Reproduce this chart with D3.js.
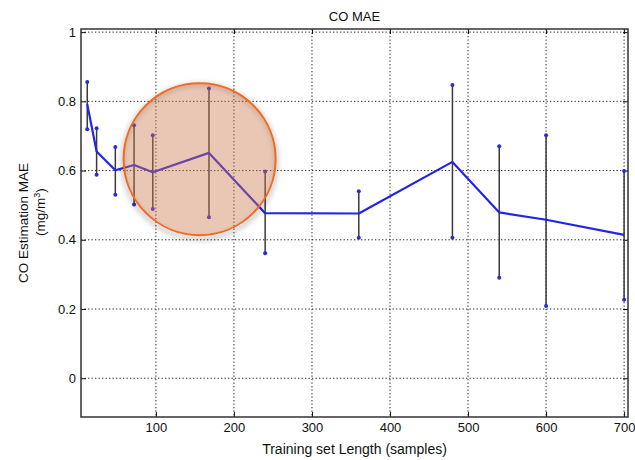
<!DOCTYPE html>
<html>
<head>
<meta charset="utf-8">
<script src="https://cdn.jsdelivr.net/npm/d3@7/dist/d3.min.js"></script>
<style>
  html, body { margin: 0; padding: 0; background: #fff; }
  svg { display: block; font-family: "Liberation Sans", Arial, Helvetica, sans-serif; }
</style>
</head>
<body>
<svg id="chart" width="635" height="460"></svg>
<script>
// Training set lengths (samples)
const trainLengths = [12, 24, 48, 72, 96, 168, 240, 360, 480, 540, 600, 700];
// Mean CO estimation MAE (mg/m^3)
const maeMean  = [0.792, 0.655, 0.601, 0.616, 0.595, 0.651, 0.477, 0.476, 0.625, 0.479, 0.458, 0.414];
// Error bar extents
const maeUpper = [0.856, 0.722, 0.668, 0.731, 0.702, 0.837, 0.597, 0.540, 0.847, 0.670, 0.702, 0.599];
const maeLower = [0.719, 0.588, 0.530, 0.502, 0.489, 0.465, 0.361, 0.406, 0.406, 0.290, 0.209, 0.227];

const xTicks = [100, 200, 300, 400, 500, 600, 700];
const yTicks = [0, 0.2, 0.4, 0.6, 0.8, 1];

// Highlighted region (data coordinates of centre)
const highlightCenter = { x: 156, y: 0.633 };

const svg = d3.select("#chart");
const plot = { left: 81, right: 628, top: 29, bottom: 417 };

const x = d3.scaleLinear().domain([4, 705]).range([plot.left, plot.right]);
const y = d3.scaleLinear().domain([-0.112, 1.009]).range([plot.bottom, plot.top]);

const defs = svg.append("defs");
defs.append("filter").attr("id", "ring-blur")
  .attr("x", "-20%").attr("y", "-20%").attr("width", "140%").attr("height", "140%")
  .append("feGaussianBlur").attr("stdDeviation", 2.5);

// Dotted grid
const grid = svg.append("g").attr("stroke", "#222").attr("stroke-width", 1)
  .attr("stroke-dasharray", "1.3,2.2");
grid.selectAll("line.gx").data(xTicks).join("line").attr("class", "gx")
  .attr("x1", d => x(d)).attr("x2", d => x(d))
  .attr("y1", plot.top).attr("y2", plot.bottom);
grid.selectAll("line.gy").data(yTicks).join("line").attr("class", "gy")
  .attr("x1", plot.left).attr("x2", plot.right)
  .attr("y1", d => y(d)).attr("y2", d => y(d));

// Axes (inward ticks on all four sides)
const axisBottom = d3.axisBottom(x).tickValues(xTicks).tickSize(-5).tickPadding(6).tickFormat(d3.format("d"));
const axisTop = d3.axisTop(x).tickValues(xTicks).tickSize(-5).tickFormat("");
const axisLeft = d3.axisLeft(y).tickValues(yTicks).tickSize(-5).tickPadding(5)
  .tickFormat(d => d === 0 || d === 1 ? String(d) : d3.format(".1f")(d));
const axisRight = d3.axisRight(y).tickValues(yTicks).tickSize(-5).tickFormat("");

function styleAxis(g) {
  g.select(".domain").remove();
  g.selectAll(".tick line").attr("stroke", "#111").attr("stroke-width", 1);
  g.selectAll(".tick text").attr("fill", "#111").attr("font-size", 13)
    .attr("font-family", "\"Liberation Sans\", Arial, sans-serif");
}
svg.append("g").attr("transform", `translate(0,${plot.bottom})`).call(axisBottom).call(styleAxis);
svg.append("g").attr("transform", `translate(0,${plot.top})`).call(axisTop).call(styleAxis);
svg.append("g").attr("transform", `translate(${plot.left},0)`).call(axisLeft).call(styleAxis);
svg.append("g").attr("transform", `translate(${plot.right},0)`).call(axisRight).call(styleAxis);

// Plot box
svg.append("rect")
  .attr("x", plot.left).attr("y", plot.top)
  .attr("width", plot.right - plot.left).attr("height", plot.bottom - plot.top)
  .attr("fill", "none").attr("stroke", "#333").attr("stroke-width", 1.5);

const rows = trainLengths.map((t, i) => ({ t, m: maeMean[i], hi: maeUpper[i], lo: maeLower[i] }));

// Error bars
svg.append("g").selectAll("line").data(rows).join("line")
  .attr("x1", d => x(d.t)).attr("x2", d => x(d.t))
  .attr("y1", d => y(d.lo)).attr("y2", d => y(d.hi))
  .attr("stroke", "#3a3a3a").attr("stroke-width", 1.5);

// Mean line
svg.append("path").datum(rows)
  .attr("d", d3.line().x(d => x(d.t)).y(d => y(d.m)))
  .attr("fill", "none").attr("stroke", "#2424e6").attr("stroke-width", 2.2)
  .attr("stroke-linejoin", "round");

// End markers of error bars
const ends = rows.flatMap(d => [{ t: d.t, v: d.hi }, { t: d.t, v: d.lo }]);
svg.append("g").selectAll("circle").data(ends).join("circle")
  .attr("cx", d => x(d.t)).attr("cy", d => y(d.v)).attr("r", 2)
  .attr("fill", "#2a2ad8");

// Highlight circle with a soft shadow ring under its edge
const hx = x(highlightCenter.x), hy = y(highlightCenter.y);
svg.append("circle")
  .attr("cx", hx).attr("cy", hy + 2.5).attr("r", 77)
  .attr("fill", "none").attr("stroke", "rgba(0,0,0,0.22)").attr("stroke-width", 4)
  .attr("filter", "url(#ring-blur)");
svg.append("circle")
  .attr("cx", hx).attr("cy", hy).attr("r", 76)
  .attr("fill", "rgba(205,118,78,0.42)")
  .attr("stroke", "#f26a1b").attr("stroke-width", 2);

// Title and axis labels
const cx = (plot.left + plot.right) / 2;
svg.append("text").attr("x", cx).attr("y", 21).attr("text-anchor", "middle")
  .attr("font-size", 13).attr("fill", "#111").text("CO MAE");

svg.append("text").attr("x", cx).attr("y", 454).attr("text-anchor", "middle")
  .attr("font-size", 14).attr("fill", "#111").text("Training set Length (samples)");

const yl = svg.append("g").attr("transform", `translate(27.5,223) rotate(-90)`);
yl.append("text").attr("x", 0).attr("y", 0).attr("text-anchor", "middle")
  .attr("font-size", 13.5).attr("fill", "#111").text("CO Estimation MAE");
const unit = yl.append("text").attr("x", 11).attr("y", 17.5).attr("text-anchor", "middle")
  .attr("font-size", 13.5).attr("fill", "#111");
unit.append("tspan").text("(mg/m");
unit.append("tspan").attr("dy", -5).attr("font-size", 9).text("3");
unit.append("tspan").attr("dy", 5).text(")");
</script>
</body>
</html>
